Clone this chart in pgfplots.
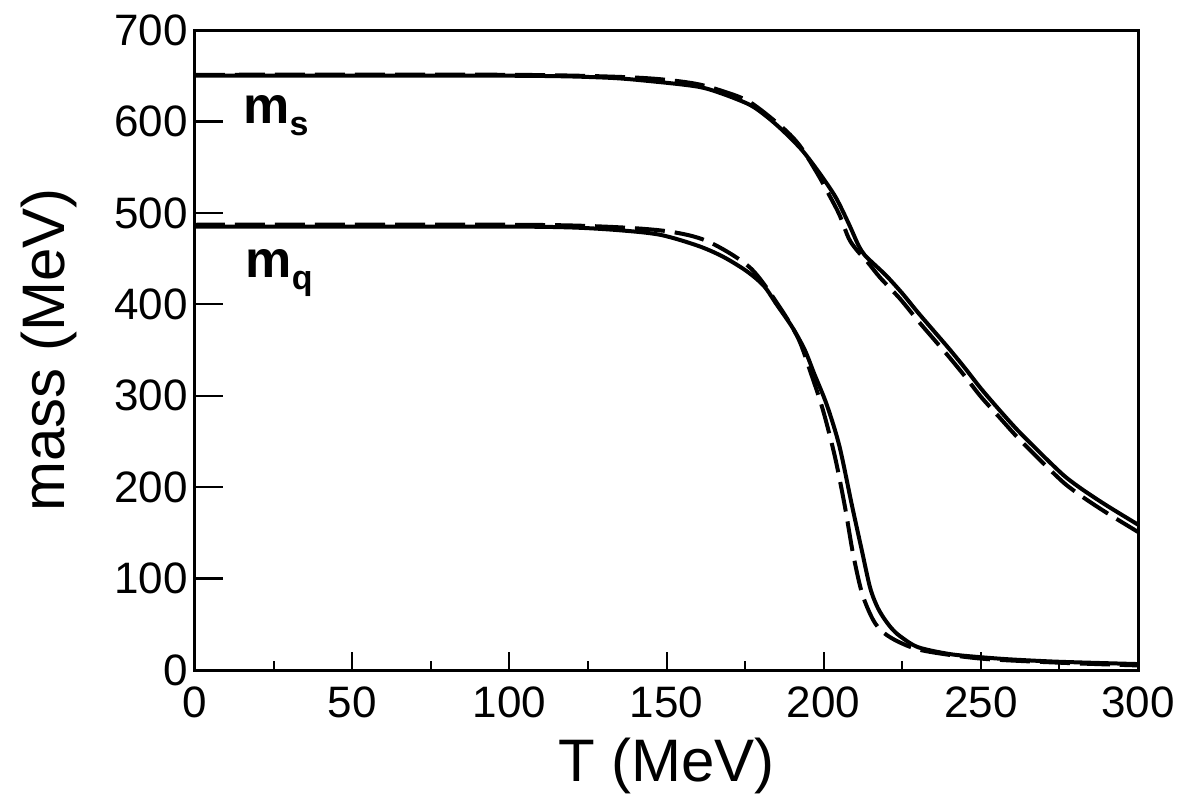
\documentclass[border=0pt]{standalone}
\usepackage{fontspec}
\setmainfont{Liberation Sans}
\usepackage{pgfplots}
\pgfplotsset{compat=1.18}

% constituent quark masses versus temperature
\pgfplotstableread{
T M
0 485
50 485
100 485
120 484
135 481
148 476
160 464
168 452
175.6 436
181 420
185 400
190 375
194 350
197 324
201 290
205 245
209 180
212 133
214.7 91
216.8 71
218.9 58
221.5 46
224.3 37
230 25
240 17.5
250 14
260 11.5
275 9
300 6.5
}\mqsolid

\pgfplotstableread{
T M
0 487
100 487
130 485
150 480
163 469
176.6 440
186 397
192 362
196 324
199.8 284
203.6 233
206.8 178
209.3 128
212.2 84
215.7 55
219 41
224.3 30
232 21
250 12.5
275 8
300 5
}\mqdashed

\pgfplotstableread{
T M
0 650
100 650
130 648
145 644
160 638
168 630
176.6 618
182 605
187 590
192.5 571
196 556
200 537
204 516
208 488
211 465
213 454
216 444
220 431
225 412
230 391
235 371
240 351
245 330
250 308
256 284
261.5 263
267 244
272 227
277 211
282.5 197
290 180
300 159
}\mssolid

\pgfplotstableread{
T M
0 651
100 651
140 648
158 642
168 633
176.6 621
187 593
192.5 573
198 543
202 518
205 498
208 472
210.6 459
214 446
218 429
224.3 406
230 382
235 362
240 342
245 321
250 299
256 276
261.5 255
267 236
272 219
277 203
282.5 189
290 172
300 151
}\msdashed

\begin{document}
\begin{tikzpicture}
\useasboundingbox (-97.5pt,-65pt) rectangle (493.5pt,335pt);
\begin{axis}[
  scale only axis,
  width=471.5pt, height=320pt,
  xmin=0, xmax=300, ymin=0, ymax=700,
  xtick pos=bottom, ytick pos=left,
  tick align=inside,
  xtick={0,50,...,300},
  minor xtick={25,75,...,275},
  ytick={0,100,...,700},
  major tick length=9pt,
  minor tick length=4.5pt,
  tick style={line width=1pt, black},
  axis line style={line width=1.5pt},
  /pgf/number format/assume math mode=true,
  tick label style={font=\fontsize{22}{26}\selectfont},
  xticklabel style={yshift=-5pt},
  xlabel={T (MeV)},
  ylabel={mass (MeV)},
  label style={font=\fontsize{30}{36}\selectfont},
  xlabel style={yshift=-3pt},
  ylabel style={yshift=12pt},
  every axis plot/.append style={line width=2pt, black, smooth, tension=0.5},
]
\addplot[solid] table[x=T,y=M] {\mqsolid};
\addplot[dash pattern=on 15pt off 5pt] table[x=T,y=M] {\mqdashed};
\addplot[solid] table[x=T,y=M] {\mssolid};
\addplot[dash pattern=on 15pt off 5pt] table[x=T,y=M] {\msdashed};

\node[anchor=base west, inner sep=0pt, font=\fontsize{26}{30}\bfseries\selectfont]
  at (axis cs:15.3,598) {m\raisebox{-6pt}{\fontsize{17}{20}\selectfont s}};
\node[anchor=base west, inner sep=0pt, font=\fontsize{26}{30}\bfseries\selectfont]
  at (axis cs:16,429) {m\raisebox{-6pt}{\fontsize{17}{20}\selectfont q}};
\end{axis}
% longer inward ticks on the mass axis, drawn as short grid lines of a narrow strip
\begin{axis}[
  scale only axis,
  width=14pt, height=320pt,
  xmin=0, xmax=1, ymin=0, ymax=700,
  xtick=\empty,
  ytick={100,200,...,600},
  yticklabels={},
  major tick length=0pt,
  ymajorgrids,
  grid style={line width=1.2pt, black, solid},
  axis line style={draw=none},
]
\end{axis}
\end{tikzpicture}
\end{document}
